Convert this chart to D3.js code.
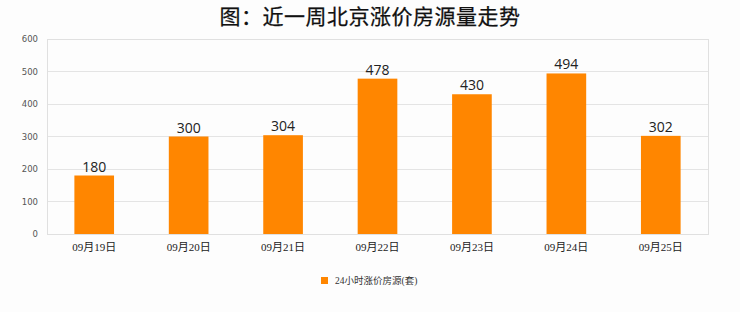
<!DOCTYPE html>
<html>
<head>
<meta charset="utf-8">
<script src="https://cdn.jsdelivr.net/npm/d3@7"></script>
<style>
  html, body { margin: 0; padding: 0; background: #fdfdfd; }
  svg { display: block; }
</style>
</head>
<body>
<svg id="chart" width="740" height="312"></svg>
<script>
// Weekly count of Beijing listings with price increases
const categories = ["09月19日", "09月20日", "09月21日", "09月22日", "09月23日", "09月24日", "09月25日"];
const values = [180, 300, 304, 478, 430, 494, 302];
const yTicks = [0, 100, 200, 300, 400, 500, 600];
const title = "图：近一周北京涨价房源量走势";
const seriesName = "24小时涨价房源(套)";

const svg = d3.select("#chart");
const W = 740, H = 312;
const m = { left: 47, right: 32, top: 39, bottom: 78 };

const x = d3.scaleBand().domain(categories).range([m.left, W - m.right]).paddingInner(0.58).paddingOuter(0.29);
const y = d3.scaleLinear().domain([0, 600]).range([H - m.bottom, m.top]);

// Title
svg.append("text")
  .attr("x", 370).attr("y", 24)
  .attr("text-anchor", "middle")
  .attr("font-family", "'Noto Sans CJK SC', sans-serif")
  .attr("font-weight", 400)
  .attr("font-size", 21)
  .attr("letter-spacing", 0.5)
  .attr("fill", "#111")
  .attr("stroke", "#111")
  .attr("stroke-width", 0.25)
  .text(title);

// Gridlines
svg.append("g").selectAll("line").data(yTicks).join("line")
  .attr("x1", m.left).attr("x2", W - m.right)
  .attr("y1", d => y(d)).attr("y2", d => y(d))
  .attr("stroke", "#e4e4e4").attr("stroke-width", 1)
  .attr("shape-rendering", "crispEdges");

// Plot frame
svg.append("rect")
  .attr("x", m.left).attr("y", m.top)
  .attr("width", W - m.left - m.right).attr("height", H - m.top - m.bottom)
  .attr("fill", "none").attr("stroke", "#e0e0e0")
  .attr("shape-rendering", "crispEdges");

// Y axis labels
const yAxis = d3.axisLeft(y).tickValues(yTicks).tickSize(0).tickPadding(9);
const gy = svg.append("g").attr("transform", `translate(${m.left},0)`).call(yAxis);
gy.select(".domain").remove();
gy.selectAll("text")
  .attr("font-family", "'DejaVu Sans', sans-serif")
  .attr("font-size", 8.5)
  .attr("fill", "#555");

// Bars
svg.append("g").selectAll("rect").data(values).join("rect")
  .attr("x", (d, i) => x(categories[i]))
  .attr("y", d => y(d))
  .attr("width", x.bandwidth())
  .attr("height", d => y(0) - y(d))
  .attr("fill", "#ff8600");

// Value labels
svg.append("g").selectAll("text").data(values).join("text")
  .attr("x", (d, i) => x(categories[i]) + x.bandwidth() / 2)
  .attr("y", d => y(d) - 4)
  .attr("text-anchor", "middle")
  .attr("font-family", "'Open Sans', sans-serif")
  .attr("font-size", 14)
  .attr("fill", "#222")
  .text(d => d);

// X axis labels
const xAxis = d3.axisBottom(x).tickSize(0).tickPadding(9);
const gx = svg.append("g").attr("transform", `translate(0,${H - m.bottom})`).call(xAxis);
gx.select(".domain").remove();
gx.selectAll("text")
  .attr("font-family", "'Liberation Serif', 'Noto Sans CJK SC', serif")
  .attr("font-size", 11)
  .attr("fill", "#222");

// Legend
const lg = svg.append("g").attr("transform", "translate(321,277)");
lg.append("rect").attr("width", 7).attr("height", 7).attr("fill", "#ff8600");
lg.append("text")
  .attr("x", 14).attr("y", 7)
  .attr("font-family", "'Liberation Serif', 'Noto Sans CJK SC', serif")
  .attr("font-size", 9.5)
  .attr("fill", "#333")
  .text(seriesName);
</script>
</body>
</html>
